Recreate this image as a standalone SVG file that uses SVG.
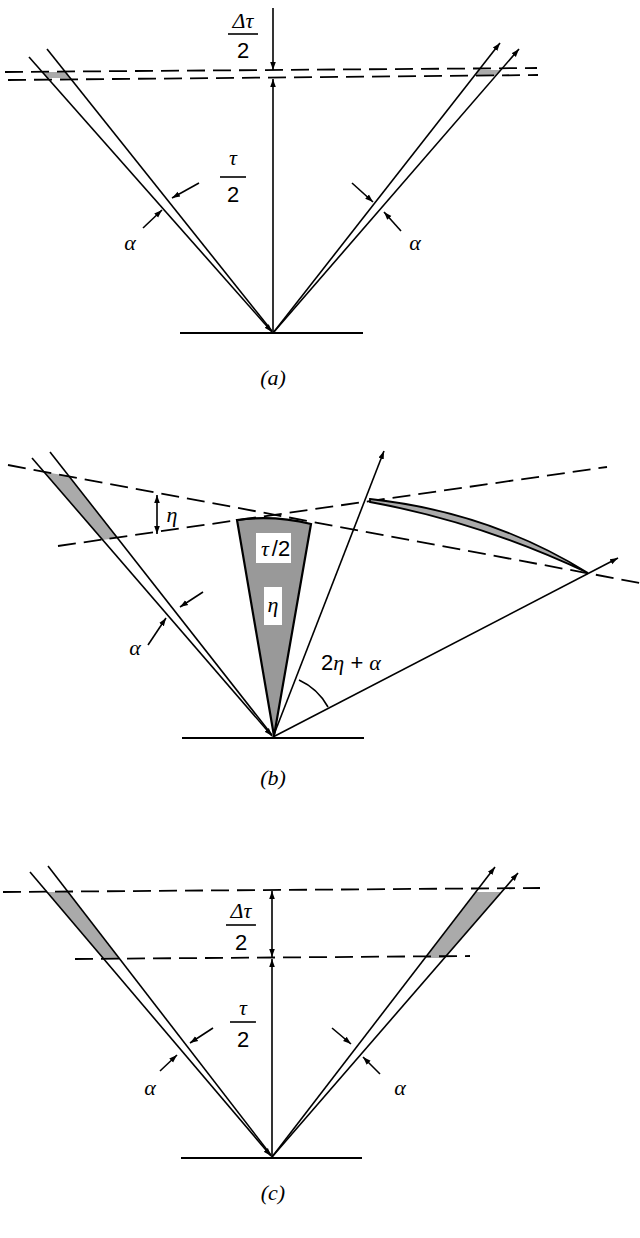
<svg xmlns="http://www.w3.org/2000/svg" width="640" height="1238" viewBox="0 0 640 1238">
<defs>
<marker id="ah" viewBox="0 0 10 10" refX="10" refY="5" markerWidth="8" markerHeight="8" markerUnits="userSpaceOnUse" orient="auto"><path d="M0,1.5 L10,5 L0,8.5 z" fill="#000"/></marker>
<marker id="ahb" viewBox="0 0 10 10" refX="10" refY="5" markerWidth="12" markerHeight="10" markerUnits="userSpaceOnUse" orient="auto"><path d="M0,1 L10,5 L0,9 z" fill="#000"/></marker>
</defs>
<style>
.l{stroke:#000;stroke-width:1.6;fill:none}
.s{stroke:#000;stroke-width:2.2;fill:none}
.d{stroke:#000;stroke-width:1.8;fill:none;stroke-dasharray:18,8}
.g{fill:#aaa;stroke:none}
.t{font-family:"Liberation Sans",Arial,sans-serif;font-size:22px;text-anchor:middle}
.i{font-family:"Liberation Serif","Times New Roman",serif;font-style:italic;font-size:22px;text-anchor:middle}
</style>
<rect width="640" height="1238" fill="#fff"/>
<g id="panel-a">
<polygon class="g" points="42,72 65,72 70,78 47,78"/>
<polygon class="g" points="479,70 501,70 496,76 474,76"/>
<line class="s" x1="180" y1="333" x2="363" y2="333"/>
<line class="d" x1="5" y1="72" x2="537" y2="68"/>
<line class="d" x1="8" y1="80" x2="538" y2="75"/>
<text class="i" x="243" y="28">Δτ</text><line class="l" x1="228" y1="34" x2="258" y2="34"/><text class="t" x="243" y="58">2</text>
<text class="i" x="233" y="165">τ</text><line class="l" x1="220" y1="177" x2="246" y2="177"/><text class="t" x="233" y="202">2</text>
<text class="i" x="130" y="250">α</text><text class="i" x="415" y="250">α</text>
<text class="i" x="273" y="385">(a)</text>
</g>
<g id="panel-b">
<polygon class="g" points="44,472 69,476 118,538 102,540"/>
<path d="M237,520 Q274,515 311,524 L274,736 Z" fill="#999" stroke="#000" stroke-width="2.2"/>
<rect x="256" y="533" width="35" height="30" fill="#fff"/>
<rect x="264" y="587" width="18" height="38" fill="#fff"/>
<text class="i" x="265" y="556" text-anchor="middle">τ</text><text class="t" x="281" y="556">/2</text>
<text class="i" x="273" y="612">η</text>
<line class="s" x1="182" y1="738" x2="364" y2="738"/>
<line class="d" x1="8" y1="465" x2="640" y2="583"/>
<line class="d" x1="58" y1="546" x2="607" y2="467"/>
<path d="M370,499 Q490,512 588,573 Q480,522 370,502 Z" fill="#aaa" stroke="#000" stroke-width="1.8"/>
<path class="l" d="M299,680 A63,63 0 0 1 328,707"/>
<text class="i" x="172" y="522">η</text>
<text class="t" x="351" y="670"><tspan>2</tspan><tspan font-family="Liberation Serif" font-style="italic">η</tspan><tspan> + </tspan><tspan font-family="Liberation Serif" font-style="italic">α</tspan></text>
<text class="i" x="135" y="655">α</text>
<text class="i" x="273" y="785">(b)</text>
</g>
<g id="panel-c">
<polygon class="g" points="47,892 68,892 119,958 103,958"/>
<polygon class="g" points="476,892 501,892 444,958 425,958"/>
<line class="s" x1="181" y1="1158" x2="362" y2="1158"/>
<line class="d" x1="3" y1="892" x2="540" y2="888"/>
<line class="d" x1="75" y1="959" x2="470" y2="956"/>
<text class="i" x="241" y="918">Δτ</text><line class="l" x1="226" y1="925" x2="256" y2="925"/><text class="t" x="241" y="950">2</text>
<text class="i" x="243" y="1015">τ</text><line class="l" x1="230" y1="1022" x2="256" y2="1022"/><text class="t" x="243" y="1047">2</text>
<text class="i" x="150" y="1095">α</text><text class="i" x="400" y="1095">α</text>
<text class="i" x="273" y="1200">(c)</text>
</g>
<g id="connectors">
<line class="l" x1="273" y1="8" x2="273" y2="70" marker-end="url(#ah)"/>
<line class="l" x1="273" y1="333" x2="273" y2="79" marker-end="url(#ah)"/>
<line class="l" x1="29" y1="57" x2="272" y2="332" marker-end="url(#ah)"/>
<line class="l" x1="47" y1="49" x2="272" y2="331"/>
<line class="l" x1="273" y1="333" x2="500" y2="43" marker-end="url(#ah)"/>
<line class="l" x1="273" y1="333" x2="519" y2="49" marker-end="url(#ah)"/>
<line class="l" x1="199" y1="183" x2="172" y2="198" marker-end="url(#ah)"/>
<line class="l" x1="143" y1="228" x2="162" y2="210" marker-end="url(#ah)"/>
<line class="l" x1="352" y1="183" x2="373" y2="202" marker-end="url(#ah)"/>
<line class="l" x1="401" y1="231" x2="384" y2="212" marker-end="url(#ah)"/>

<line class="l" x1="32" y1="458" x2="272" y2="736" marker-end="url(#ah)"/>
<line class="l" x1="50" y1="452" x2="272" y2="735"/>
<line class="l" x1="273" y1="737" x2="384" y2="451" marker-end="url(#ah)"/>
<line class="l" x1="273" y1="737" x2="618" y2="558" marker-end="url(#ah)"/>
<line class="l" x1="157" y1="514" x2="157" y2="495" marker-end="url(#ah)"/>
<line class="l" x1="157" y1="514" x2="157" y2="534" marker-end="url(#ah)"/>
<line class="l" x1="203" y1="592" x2="180" y2="607" marker-end="url(#ah)"/>
<line class="l" x1="148" y1="645" x2="166" y2="618" marker-end="url(#ah)"/>

<line class="l" x1="30" y1="872" x2="271" y2="1156" marker-end="url(#ah)"/>
<line class="l" x1="48" y1="866" x2="271" y2="1155"/>
<line class="l" x1="272" y1="1157" x2="495" y2="867" marker-end="url(#ah)"/>
<line class="l" x1="272" y1="1157" x2="518" y2="873" marker-end="url(#ah)"/>
<line class="l" x1="272" y1="1157" x2="272" y2="959" marker-end="url(#ah)"/>
<line class="l" x1="272" y1="925" x2="272" y2="891" marker-end="url(#ah)"/>
<line class="l" x1="272" y1="925" x2="272" y2="957" marker-end="url(#ah)"/>
<line class="l" x1="213" y1="1028" x2="190" y2="1043" marker-end="url(#ah)"/>
<line class="l" x1="160" y1="1071" x2="177" y2="1055" marker-end="url(#ah)"/>
<line class="l" x1="332" y1="1028" x2="351" y2="1044" marker-end="url(#ah)"/>
<line class="l" x1="380" y1="1074" x2="363" y2="1057" marker-end="url(#ah)"/>
</g>
</svg>
